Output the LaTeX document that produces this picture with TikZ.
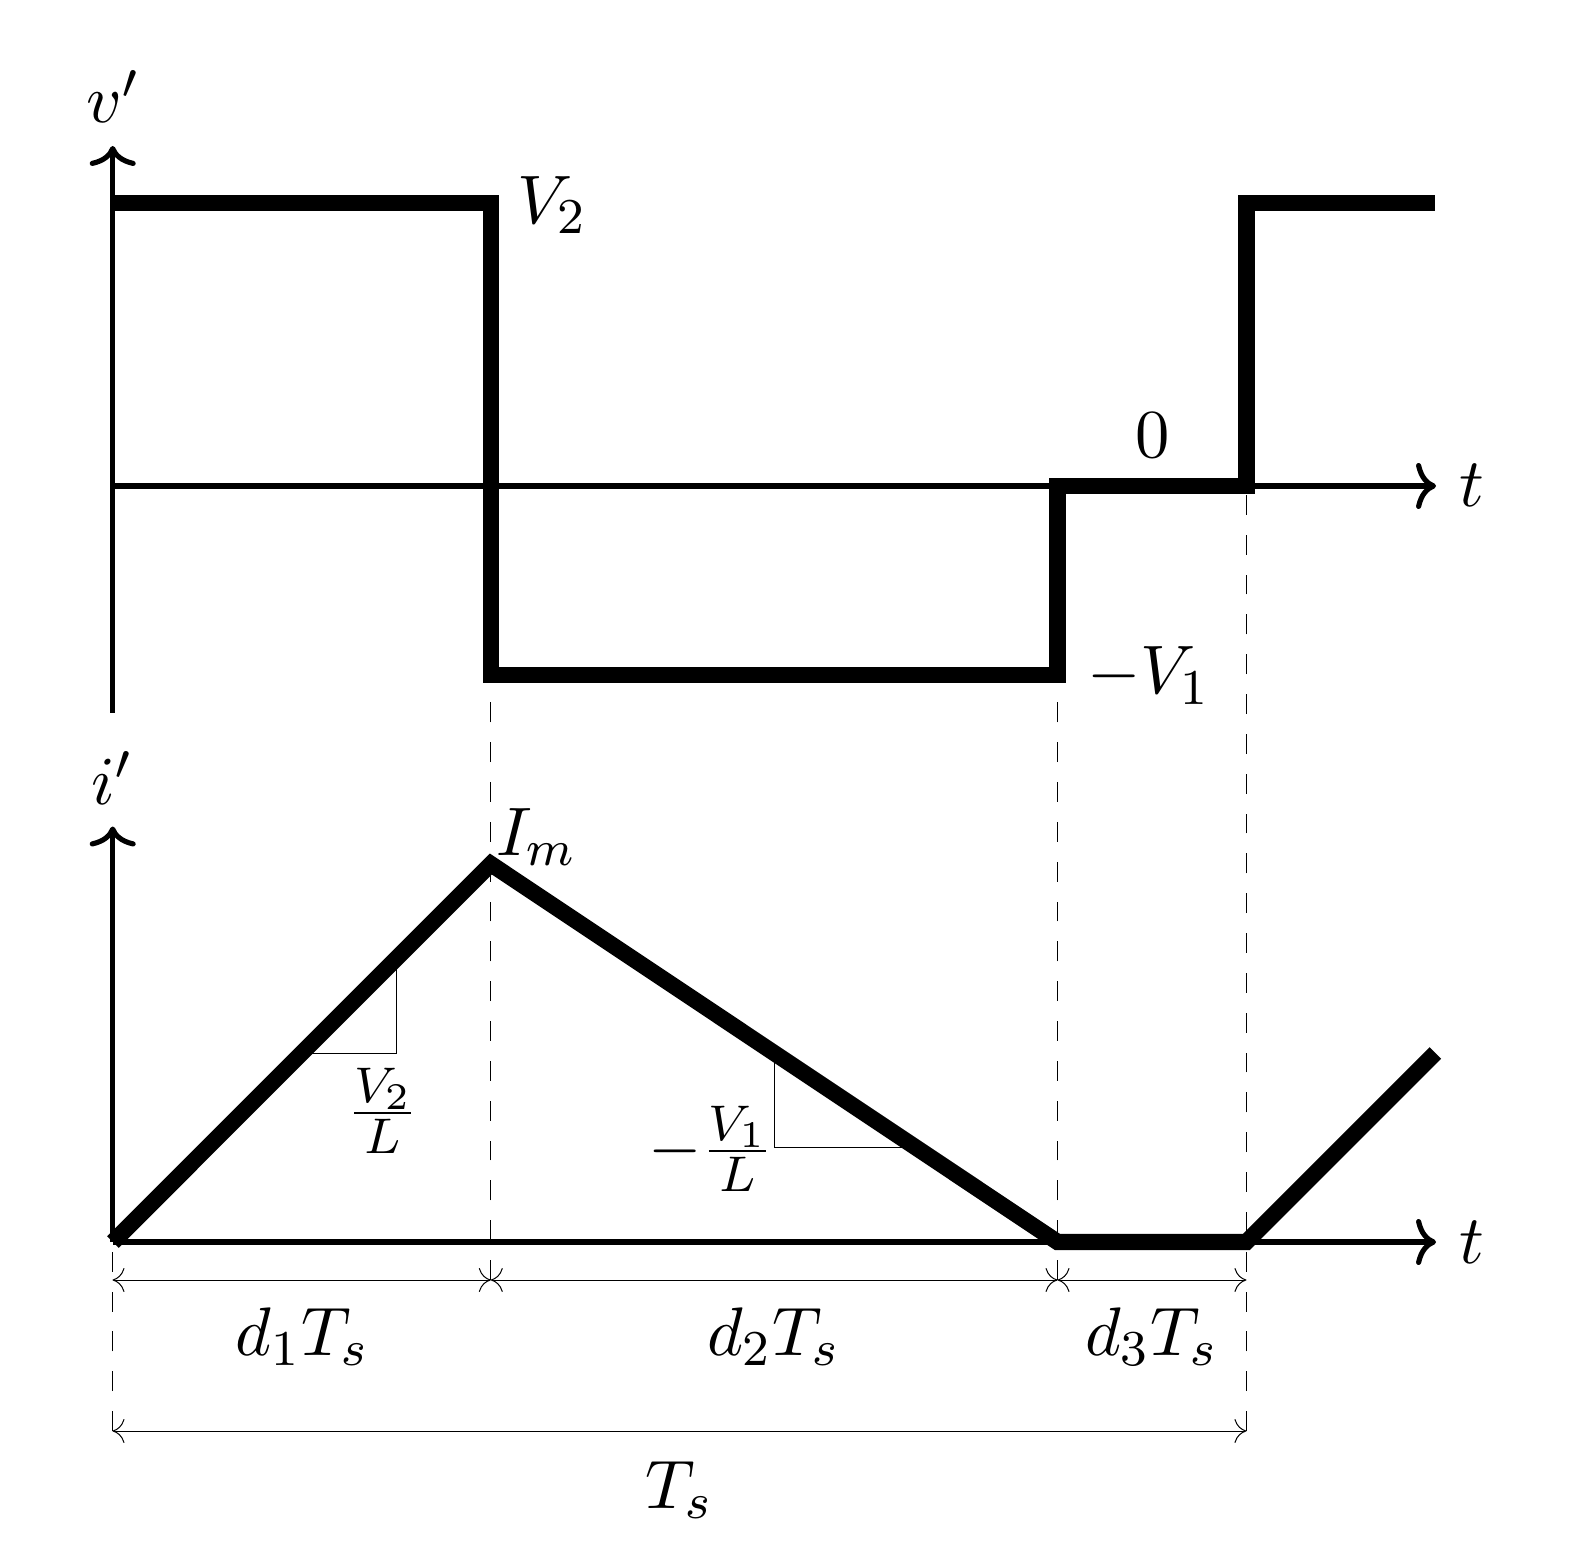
\documentclass[tikz,border=0pt,11pt]{standalone}
\usetikzlibrary{arrows.meta}
\tikzset{
  x=0.1595pt,y=-0.1595pt,
  wave/.style={line width=2.6pt,miter limit=10,line join=miter,line cap=butt},
  axis/.style={line width=0.82pt,-{To[length=3.19pt,width=7.34pt]}},
  thinline/.style={line width=0.16pt},
  dimline/.style={line width=0.16pt,{To[length=1.91pt,width=3.83pt]}-{To[length=1.91pt,width=3.83pt]}},
  dashline/.style={line width=0.16pt,dash pattern=on 3.177pt off 3.177pt},
  lab/.style={inner sep=0pt,outer sep=0pt},
}
\begin{document}
\begin{tikzpicture}
\useasboundingbox (0,0) rectangle (1575,1548);
% key coordinates
\coordinate (vbot) at (112.7,713);
\coordinate (vtop) at (112.7,146);
\coordinate (vo) at (112.7,486);
\coordinate (vend) at (1436,486);
\coordinate (io) at (112.7,1242);
\coordinate (itop) at (112.7,826.5);
\coordinate (iend) at (1436,1242);
\coordinate (a1) at (113,202.7);
\coordinate (a2) at (490.8,202.7);
\coordinate (a3) at (490.8,675);
\coordinate (a4) at (1057.5,675);
\coordinate (a5) at (1057.5,486);
\coordinate (a6) at (1246.4,486);
\coordinate (a7) at (1246.4,202.7);
\coordinate (a8) at (1435.3,202.7);
\coordinate (b1) at (113,1242);
\coordinate (b2) at (490.8,864);
\coordinate (b3) at (1057.5,1242);
\coordinate (b4) at (1246.4,1242);
\coordinate (b5) at (1435.3,1053);
\coordinate (d0) at (112.5,1280);
\coordinate (d1) at (490.8,1280);
\coordinate (d2) at (1057.5,1280);
\coordinate (d3) at (1246.4,1280);
\coordinate (e0) at (112.5,1431);
\coordinate (e0t) at (112.5,1242);
\coordinate (e3) at (1246.4,1431);
% axes
\draw[axis] (vbot) -- (vtop);
\draw[axis] (vo) -- (vend);
\draw[axis] (io) -- (itop);
\draw[axis] (io) -- (iend);
% guides
\draw[dashline] (e0) -- (e0t);
\draw[dashline] (e3) -- (a6);
\draw[dashline] (d1) -- (a3);
\draw[dashline] (d2) -- (a4);
% waveforms
\draw[wave] (a1) -- (a2) -- (a3) -- (a4) -- (a5) -- (a6) -- (a7) -- (a8);
\draw[wave] (b1) -- (b2) -- (b3) -- (b4) -- (b5);
% slope triangles
\draw[thinline] (301.9,1053.3) -- (396.3,1053.3) -- (396.3,958.9);
\draw[thinline] (774.2,1053.4) -- (774.2,1147.6) -- (916,1147.6);
% dimensions
\draw[dimline] (d0) -- (d1);
\draw[dimline] (d1) -- (d2);
\draw[dimline] (d2) -- (d3);
\draw[dimline] (e0) -- (e3);
% labels
\node[lab,anchor=base] (lv) at (113.5,123) {$v'$};
\node[lab,anchor=base] (li) at (112.5,804) {$i'$};
\node[lab,anchor=base west] (lV2) at (517,223.5) {$V_2$};
\node[lab,anchor=base] (lzero) at (1153,458) {$0$};
\node[lab,anchor=base west] (lt1) at (1459.5,507) {$t$};
\node[lab,anchor=base west] (lt2) at (1459.5,1263) {$t$};
\node[lab,anchor=base west] (lV1) at (1087,694) {$-V_1$};
\node[lab,anchor=base west] (lIm) at (496.5,855) {$I_m$};
\node[lab,anchor=base west] (ld1) at (235.5,1355) {$d_1T_s$};
\node[lab,anchor=base west] (ld2) at (707,1355) {$d_2T_s$};
\node[lab,anchor=base west] (ld3) at (1085,1355) {$d_3T_s$};
\node[lab,anchor=base west] (lTs) at (645,1508) {$T_s$};
\node[lab,anchor=base] (lf2) at (382.7,1130) {$\frac{V_2}{L}$};
\node[lab,anchor=base west] (lf1) at (648,1168) {$-\frac{V_1}{L}$};
\end{tikzpicture}
\end{document}
